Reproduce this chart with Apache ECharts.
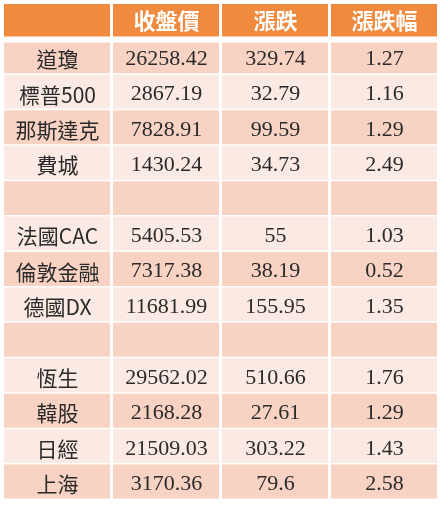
<!DOCTYPE html>
<html><head><meta charset="utf-8">
<script src="https://cdn.jsdelivr.net/npm/echarts@6/dist/echarts.min.js"></script>
<style>html,body{margin:0;padding:0;background:#fff}#c{width:443px;height:514px}</style>
</head><body><div id="c"></div>
<script>
var headers = ['', '收盤價', '漲跌', '漲跌幅'];
var names = ['道瓊','標普500','那斯達克','費城','','法國CAC','倫敦金融','德國DX','','恆生','韓股','日經','上海'];
var closes = ['26258.42','2867.19','7828.91','1430.24','','5405.53','7317.38','11681.99','','29562.02','2168.28','21509.03','3170.36'];
var changes = ['329.74','32.79','99.59','34.73','','55','38.19','155.95','','510.66','27.61','303.22','79.6'];
var pcts = ['1.27','1.16','1.29','2.49','','1.03','0.52','1.35','','1.76','1.29','1.43','2.58'];

var cols = [0,1,2,3];
var rows = [];
for (var r = 0; r <= names.length; r++) rows.push(r);
var data = [];
cols.forEach(function(c){ data.push([c, 0, headers[c]]); });
var colArrays = [names, closes, changes, pcts];
names.forEach(function(_, i){
  cols.forEach(function(c){ data.push([c, i+1, colArrays[c][i]]); });
});

var chart = echarts.init(document.getElementById('c'));
chart.setOption({
  animation: false,
  grid: {left: 3, right: 4, top: 4, bottom: 14},
  xAxis: {type: 'category', data: cols, show: false},
  yAxis: {type: 'category', data: rows, inverse: true, show: false},
  series: [{
    type: 'custom',
    data: data,
    renderItem: function(params, api){
      var c = api.value(0), r = api.value(1), t = api.value(2);
      var p = api.coord([c, r]);
      var s = api.size([1, 1]);
      var x0 = p[0] - s[0]/2 + 1, w = s[0] - 3;
      var y0 = p[1] - s[1]/2, h = s[1] - 1.5;
      var fill, color, font, ty = p[1];
      if (r === 0) { fill = '#F08A3E'; color = '#fff'; font = 'bold 22px "Noto Sans CJK TC"'; h = s[1]-3; ty = p[1]-1; }
      else {
        if (r === 1) { y0 += 3; h -= 3; }
        fill = (r % 2 === 1) ? '#F8D3C3' : '#FBE9E3';
        color = '#2a2a2a';
        font = (c === 0) ? '21px "Noto Sans CJK TC"' : '22px "Liberation Serif"';
        ty = p[1] + 2;
      }
      return {type: 'group', children: [
        {type: 'rect', shape: {x: x0, y: y0, width: w, height: h}, style: {fill: fill}},
        {type: 'text', style: {text: t, x: p[0], y: ty, align: 'center', verticalAlign: 'middle', font: font, fill: color}}
      ]};
    }
  }]
});
</script></body></html>
